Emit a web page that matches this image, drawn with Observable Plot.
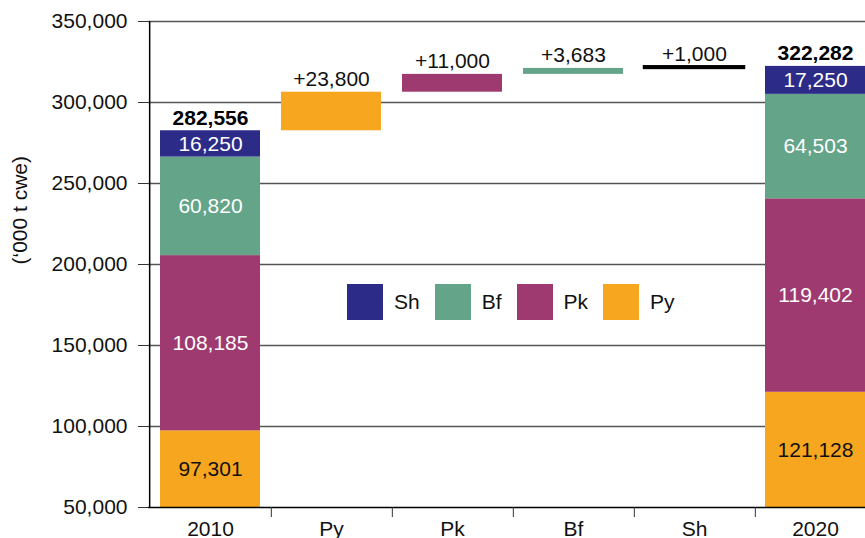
<!DOCTYPE html>
<html>
<head>
<meta charset="utf-8">
<script src="https://cdn.jsdelivr.net/npm/d3@7"></script>
<script src="https://cdn.jsdelivr.net/npm/@observablehq/plot@0.6"></script>
<style>
  html, body { margin: 0; padding: 0; overflow: hidden; background: #fff; width: 865px; height: 538px; }
  #wrap { position: relative; width: 865px; height: 538px; overflow: hidden; font-family: "Liberation Sans", Arial, Helvetica, sans-serif; }
  #wrap svg { max-width: none !important; display: block; }
  #legend { position: absolute; left: 347px; top: 284px; display: flex; align-items: center; font-size: 21px; color: #111; }
  .item { display: flex; align-items: center; margin-right: 15px; }
  .sw { width: 36px; height: 36px; margin-right: 11px; }
</style>
</head>
<body>
<div id="wrap"><div id="legend"></div></div>
<script>
const categories = ["2010", "Py", "Pk", "Bf", "Sh", "2020"];
const species = ["Py", "Pk", "Bf", "Sh"];
const speciesColors = ["#f7a61f", "#9e3a6f", "#64a489", "#2d2b88"];
const changeColors = ["#f7a61f", "#9e3a6f", "#64a489", "#000000"];
const values2010 = [97301, 108185, 60820, 16250];
const values2020 = [121128, 119402, 64503, 17250];
const changes = [23800, 11000, 3683, 1000];
const total2010 = 282556;
const total2020 = 322282;
const yTicks = [50000, 100000, 150000, 200000, 250000, 300000, 350000];
const yLabel = "(\u2018000 t cwe)";

const fmt = d3.format(",");
const yMin = yTicks[0];

// stacked segments
const segs = [];
function stack(cat, vals) {
  let acc = 0;
  vals.forEach((v, i) => {
    segs.push({cat, sp: species[i], y1: acc, y2: acc + v, label: fmt(v),
      fill: speciesColors[i], tfill: species[i] === "Py" ? "#111" : "#fff"});
    acc += v;
  });
}
stack("2010", values2010);
stack("2020", values2020);

// waterfall changes
const changeBars = [];
let base = total2010;
changes.forEach((c, i) => {
  changeBars.push({cat: species[i], y1: base, y2: base + c, label: "+" + fmt(c),
    fill: changeColors[i], stroke: species[i] === "Sh" ? "#000" : "none"});
  base += c;
});

const totals = [{cat: "2010", y: total2010, label: fmt(total2010)},
                {cat: "2020", y: total2020, label: fmt(total2020)}];

const W = 878, ML = 148, MR = 0;
const step = (W - ML - MR) / categories.length;

const chart = Plot.plot({
  width: W,
  height: 538,
  marginLeft: ML,
  marginRight: MR,
  marginTop: 21,
  marginBottom: 31,
  style: {fontFamily: "\"Liberation Sans\", Arial, Helvetica, sans-serif", fontSize: "21px", color: "#111", background: "transparent", overflow: "visible", maxWidth: "none"},
  x: {domain: categories, paddingInner: 0.17, paddingOuter: 0.085, label: null},
  y: {domain: [yTicks[0], yTicks[yTicks.length - 1]], label: null},
  color: {type: "identity"},
  marks: [
    Plot.ruleY(yTicks.slice(1), {stroke: "#555", strokeWidth: 1.3}),
    Plot.barY(segs, {x: "cat", y1: "y1", y2: "y2", fill: "fill", clip: true}),
    Plot.barY(changeBars, {x: "cat", y1: "y1", y2: "y2", fill: "fill", stroke: "stroke", strokeWidth: 2.5}),
    Plot.text(segs, {x: "cat", y: d => (Math.max(d.y1, yMin) + d.y2) / 2, text: "label", fill: "tfill", fontSize: 21}),
    Plot.text(changeBars, {x: "cat", y: "y2", text: "label", lineAnchor: "bottom", dy: -6, fill: "#111", fontSize: 21}),
    Plot.text(totals, {x: "cat", y: "y", text: "label", lineAnchor: "bottom", dy: -6, fill: "#000", fontWeight: "bold", fontSize: 21}),
    Plot.ruleY([yMin], {stroke: "#000", strokeWidth: 1.5}),
    Plot.ruleX([categories[0]], {x: d => d, dx: -step / 2, stroke: "#000", strokeWidth: 1.5}),
    Plot.axisY({ticks: yTicks, tickFormat: fmt, tickSize: 10, tickPadding: 11, stroke: "#333", fontSize: 21}),
    Plot.axisX({tickSize: 0, tickPadding: 14, fontSize: 21}),
    Plot.axisX({ticks: categories.slice(0, -1), tickSize: 10, tickFormat: () => "", dx: step / 2, stroke: "#333"}),
    Plot.text([yLabel], {frameAnchor: "left", dx: -128, rotate: -90, fontSize: 21, fill: "#111"})
  ]
});
document.getElementById("wrap").prepend(chart);

const legend = document.getElementById("legend");
["Sh", "Bf", "Pk", "Py"].forEach(s => {
  const it = document.createElement("div");
  it.className = "item";
  const sw = document.createElement("div");
  sw.className = "sw";
  sw.style.background = speciesColors[species.indexOf(s)];
  const t = document.createElement("span");
  t.textContent = s;
  it.appendChild(sw); it.appendChild(t);
  legend.appendChild(it);
});
</script>
</body>
</html>
